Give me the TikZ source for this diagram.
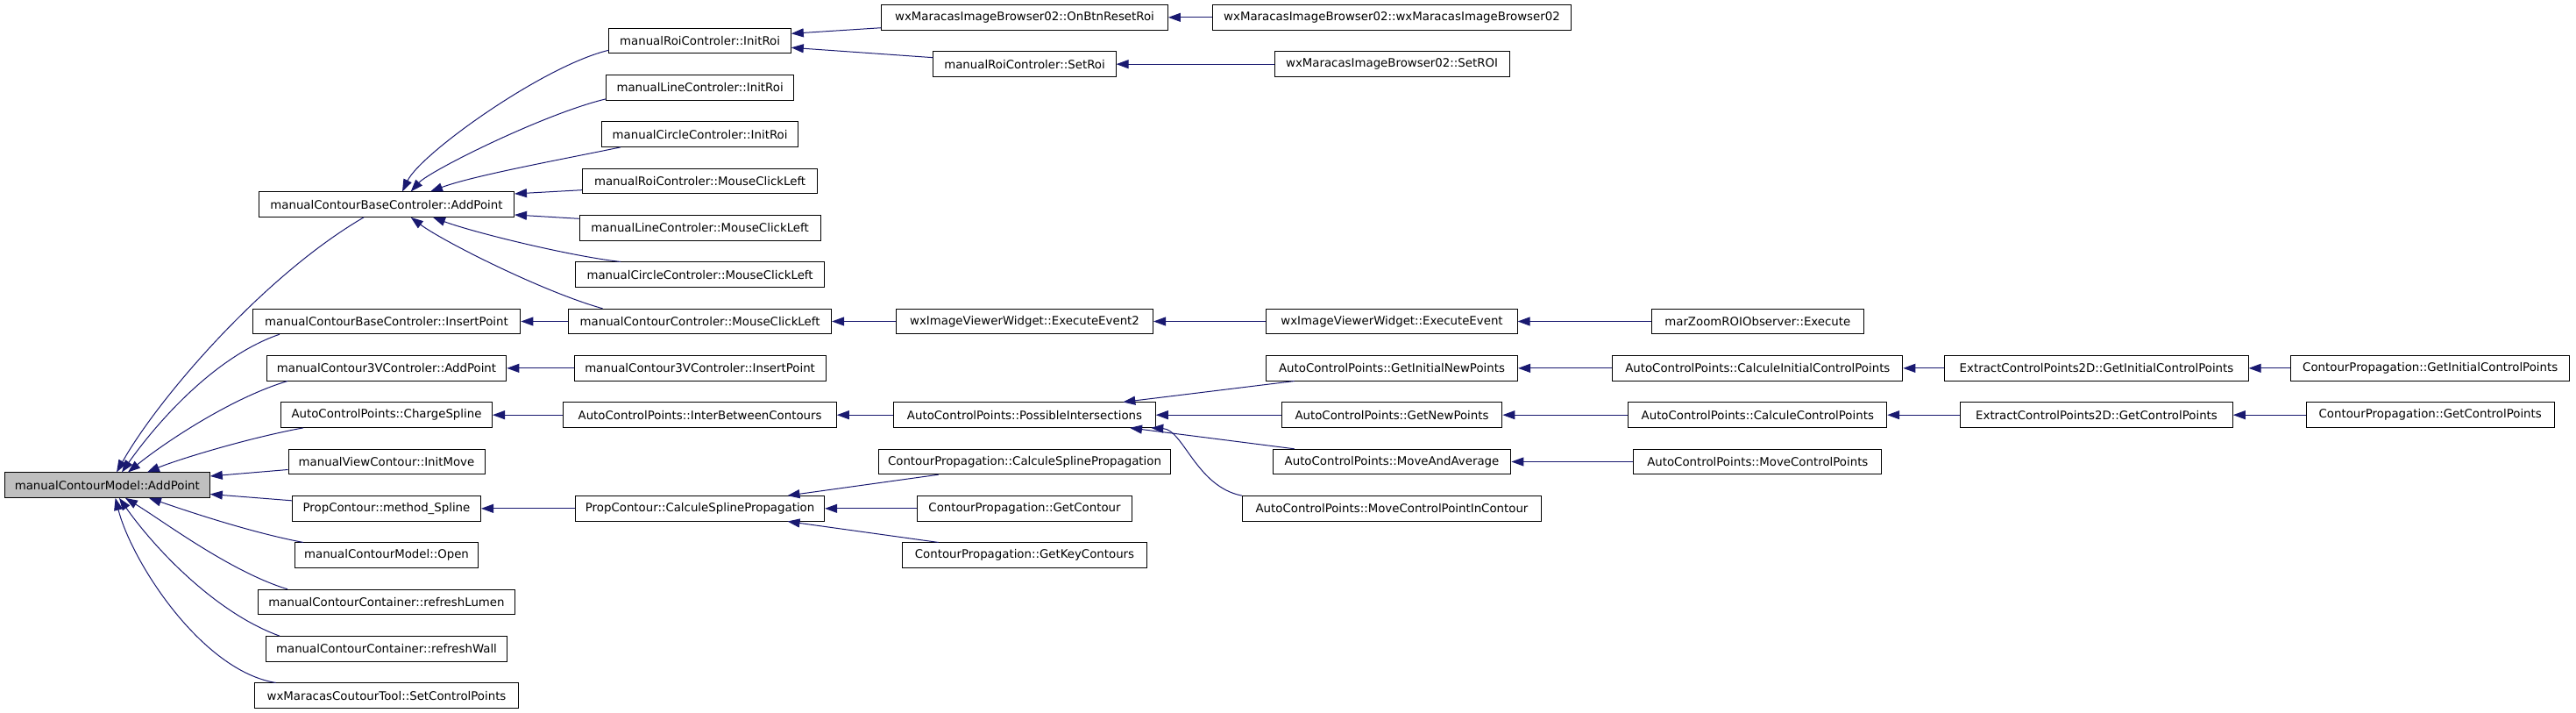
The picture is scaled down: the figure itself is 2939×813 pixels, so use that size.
\documentclass[tikz,border=0pt]{standalone}
\usepackage{fontspec}
\setmainfont{DejaVu Sans}
\usetikzlibrary{arrows.meta}
\definecolor{edgeblue}{RGB}{25,25,112}
\definecolor{rootfill}{RGB}{191,191,191}
\begin{document}
\begin{tikzpicture}[x=1pt,y=-1pt,
  box/.style={draw=black, line width=1pt, minimum height=28.4pt, inner sep=0pt, fill=white,
    font=\fontsize{13.33}{16}\selectfont},
  rootbox/.style={box, fill=rootfill},
  edge/.style={draw=edgeblue, line width=1pt, {Triangle[length=14pt,width=10pt]}-}]
\useasboundingbox (0,0) rectangle (2939,813);
% column 1
\node[rootbox, minimum width=233.9pt] (root) at (122.35,553.17) {manualContourModel::AddPoint};
% column 2
\node[box, minimum width=291pt]   (bap)  at (441,233.17) {manualContourBaseControler::AddPoint};
\node[box, minimum width=305.8pt] (bip)  at (441,366.5)  {manualContourBaseControler::InsertPoint};
\node[box, minimum width=273.6pt] (c3ap) at (441,419.83) {manualContour3VControler::AddPoint};
\node[box, minimum width=241pt]   (chs)  at (441,473.17) {AutoControlPoints::ChargeSpline};
\node[box, minimum width=224pt]   (imv)  at (441,526.5)  {manualViewContour::InitMove};
\node[box, minimum width=215pt]   (msp)  at (441,579.83) {PropContour::method\_Spline};
\node[box, minimum width=209pt]   (opn)  at (441,633.17) {manualContourModel::Open};
\node[box, minimum width=293.4pt] (rlu)  at (441,686.5)  {manualContourContainer::refreshLumen};
\node[box, minimum width=275pt]   (rwa)  at (441,739.83) {manualContourContainer::refreshWall};
\node[box, minimum width=301.4pt] (scp)  at (441,793.17) {wxMaracasCoutourTool::SetControlPoints};
% column 3
\node[box, minimum width=207.4pt] (rir)  at (798.6,46.5)   {manualRoiControler::InitRoi};
\node[box, minimum width=213.6pt] (lir)  at (798.6,99.83)  {manualLineControler::InitRoi};
\node[box, minimum width=224.2pt] (cir)  at (798.6,153.17) {manualCircleControler::InitRoi};
\node[box, minimum width=268.6pt] (rml)  at (798.6,206.5)  {manualRoiControler::MouseClickLeft};
\node[box, minimum width=274.8pt] (lml)  at (798.6,259.83) {manualLineControler::MouseClickLeft};
\node[box, minimum width=284.7pt] (cml)  at (798.6,313.17) {manualCircleControler::MouseClickLeft};
\node[box, minimum width=300pt]   (ctml) at (798.6,366.5)  {manualContourControler::MouseClickLeft};
\node[box, minimum width=287pt]   (c3ip) at (798.6,419.83) {manualContour3VControler::InsertPoint};
\node[box, minimum width=311.4pt] (ibc)  at (798.6,473.17) {AutoControlPoints::InterBetweenContours};
\node[box, minimum width=284pt]   (pcsp) at (798.6,579.83) {PropContour::CalculeSplinePropagation};
% column 4
\node[box, minimum width=326.8pt] (obr)   at (1169,19.83)  {wxMaracasImageBrowser02::OnBtnResetRoi};
\node[box, minimum width=208.2pt] (srr)   at (1169,73.17)  {manualRoiControler::SetRoi};
\node[box, minimum width=293.1pt] (ee2)   at (1169,366.5)  {wxImageViewerWidget::ExecuteEvent2};
\node[box, minimum width=298.5pt] (pin)   at (1169,473.17) {AutoControlPoints::PossibleIntersections};
\node[box, minimum width=332.9pt] (cpcsp) at (1169,526.5)  {ContourPropagation::CalculeSplinePropagation};
\node[box, minimum width=244.9pt] (gco)   at (1169,579.83) {ContourPropagation::GetContour};
\node[box, minimum width=278.6pt] (gkc)   at (1169,633.17) {ContourPropagation::GetKeyContours};
% column 5
\node[box, minimum width=408.7pt] (wmb)  at (1588,19.83)  {wxMaracasImageBrowser02::wxMaracasImageBrowser02};
\node[box, minimum width=268pt]   (sroi) at (1588,73.17)  {wxMaracasImageBrowser02::SetROI};
\node[box, minimum width=286.1pt] (ee)   at (1588,366.5)  {wxImageViewerWidget::ExecuteEvent};
\node[box, minimum width=287pt]   (ginp) at (1588,419.83) {AutoControlPoints::GetInitialNewPoints};
\node[box, minimum width=251.8pt] (gnp)  at (1588,473.17) {AutoControlPoints::GetNewPoints};
\node[box, minimum width=271.7pt] (maa)  at (1588,526.5)  {AutoControlPoints::MoveAndAverage};
\node[box, minimum width=341.4pt] (mcpc) at (1588,579.83) {AutoControlPoints::MoveControlPointInContour};
% column 6
\node[box, minimum width=242pt]   (zre)  at (2005.3,366.5)  {marZoomROIObserver::Execute};
\node[box, minimum width=331pt]   (cicp) at (2005.3,419.83) {AutoControlPoints::CalculeInitialControlPoints};
\node[box, minimum width=294.8pt] (ccp)  at (2005.3,473.17) {AutoControlPoints::CalculeControlPoints};
\node[box, minimum width=283pt]   (mcp)  at (2005.3,526.5)  {AutoControlPoints::MoveControlPoints};
% column 7
\node[box, minimum width=346.1pt] (egic) at (2392,419.83) {ExtractControlPoints2D::GetInitialControlPoints};
\node[box, minimum width=310.6pt] (egcp) at (2392,473.17) {ExtractControlPoints2D::GetControlPoints};
% column 8
\node[box, minimum width=317.7pt] (pgic) at (2772.7,419.83) {ContourPropagation::GetInitialControlPoints};
\node[box, minimum width=283pt]   (pgcp) at (2772.7,473.17) {ContourPropagation::GetControlPoints};
% edges into root
\draw[edge] ([xshift=10.7pt]root.north) .. controls (180,455) and (300,315) .. ([xshift=-26pt]bap.south);
\draw[edge] ([xshift=16.6pt]root.north) .. controls (184,475) and (249,405) .. ([xshift=-122pt]bip.south);
\draw[edge] ([xshift=23.6pt]root.north) .. controls (186,506) and (263,454) .. ([xshift=-113pt]c3ap.south);
\draw[edge] ([xshift=45.6pt]root.north) .. controls (200,525) and (280,500) .. ([xshift=-95pt]chs.south);
\draw[edge] ([yshift=10.2pt]root.east) -- ([yshift=-9pt]imv.west);
\draw[edge] ([yshift=-10.3pt]root.east) -- ([yshift=9pt]msp.west);
\draw[edge] ([xshift=47.6pt]root.south) .. controls (200,578) and (280,606) .. ([xshift=-95pt]opn.north);
\draw[edge] ([xshift=20.6pt]root.south) .. controls (186,594) and (263,652) .. ([xshift=-113pt]rlu.north);
\draw[edge] ([xshift=13.6pt]root.south) .. controls (180,630) and (249,700) .. ([xshift=-122pt]rwa.north);
\draw[edge] ([xshift=9.3pt]root.south) .. controls (150,640) and (230,765) .. ([xshift=-126.3pt]scp.north);
% edges into bap
\draw[edge] ([xshift=18pt]bap.north) .. controls (480,175) and (620,75) .. ([yshift=-10.8pt]rir.west);
\draw[edge] ([xshift=27.7pt]bap.north) .. controls (490,195) and (620,130) .. ([yshift=-13pt]lir.west);
\draw[edge] ([xshift=50pt]bap.north) .. controls (540,200) and (650,180) .. ([xshift=-90.6pt]cir.south);
\draw[edge] ([yshift=12.2pt]bap.east) -- ([yshift=-10.2pt]rml.west);
\draw[edge] ([yshift=-11.8pt]bap.east) -- ([yshift=10.5pt]lml.west);
\draw[edge] ([xshift=53pt]bap.south) .. controls (540,265) and (650,292) .. ([xshift=-90.6pt]cml.north);
\draw[edge] ([xshift=27.75pt]bap.south) .. controls (505,275) and (620,333) .. ([xshift=-111pt]ctml.north);
% other edges
\draw[edge] (bip.east) -- (ctml.west);
\draw[edge] (c3ap.east) -- (c3ip.west);
\draw[edge] (chs.east) -- (ibc.west);
\draw[edge] (msp.east) -- (pcsp.west);
\draw[edge] ([yshift=8.2pt]rir.east) -- ([yshift=-11.9pt]obr.west);
\draw[edge] ([yshift=-7.8pt]rir.east) -- ([yshift=7.5pt]srr.west);
\draw[edge] (obr.east) -- (wmb.west);
\draw[edge] (srr.east) -- (sroi.west);
\draw[edge] (ctml.east) -- (ee2.west);
\draw[edge] (ee2.east) -- (ee.west);
\draw[edge] (ee.east) -- (zre.west);
\draw[edge] (ibc.east) -- (pin.west);
\draw[edge] ([xshift=112.3pt]pin.north) -- ([xshift=-111.3pt]ginp.south);
\draw[edge] (pin.east) -- (gnp.west);
\draw[edge] ([xshift=120pt]pin.south) -- ([xshift=-111.3pt]maa.north);
\draw[edge] ([xshift=144.3pt]pin.south) .. controls (1350,490) and (1365,555) .. (mcpc.north west);
\draw[edge] (ginp.east) -- (cicp.west);
\draw[edge] (cicp.east) -- (egic.west);
\draw[edge] (egic.east) -- (pgic.west);
\draw[edge] (gnp.east) -- (ccp.west);
\draw[edge] (ccp.east) -- (egcp.west);
\draw[edge] (egcp.east) -- (pgcp.west);
\draw[edge] (maa.east) -- (mcp.west);
\draw[edge] ([xshift=99.9pt]pcsp.north) -- ([xshift=-98.3pt]cpcsp.south);
\draw[edge] (pcsp.east) -- (gco.west);
\draw[edge] ([xshift=99.9pt]pcsp.south) -- ([xshift=-98.3pt]gkc.north);
\end{tikzpicture}
\end{document}
